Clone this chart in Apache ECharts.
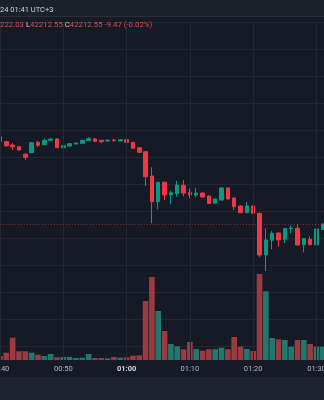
<!DOCTYPE html>
<html>
<head>
<meta charset="utf-8">
<script src="https://cdn.jsdelivr.net/npm/echarts@6/dist/echarts.min.js"></script>
<style>
html,body{margin:0;padding:0;background:#161a25;}
#c{width:324px;height:400px;}
</style>
</head>
<body>
<div id="c"></div>
<script>
// ---- data ----
const categories = ['00:40','00:41','00:42','00:43','00:44','00:45','00:46','00:47','00:48','00:49',
  '00:50','00:51','00:52','00:53','00:54','00:55','00:56','00:57','00:58','00:59',
  '01:00','01:01','01:02','01:03','01:04','01:05','01:06','01:07','01:08','01:09',
  '01:10','01:11','01:12','01:13','01:14','01:15','01:16','01:17','01:18','01:19',
  '01:20','01:21','01:22','01:23','01:24','01:25','01:26','01:27','01:28','01:29',
  '01:30','01:31'];
// [open, close, low, high]
const ohlc = [
  [42228.76,42227.83,42227.69,42228.98],
  [42227.83,42227.09,42226.95,42227.96],
  [42227.22,42226.91,42226.30,42227.59],
  [42226.91,42226.30,42226.20,42227.04],
  [42225.50,42224.95,42224.45,42225.74],
  [42225.80,42227.65,42225.74,42227.72],
  [42227.72,42227.17,42226.85,42228.02],
  [42227.28,42228.09,42227.22,42228.46],
  [42228.09,42228.33,42228.00,42228.43],
  [42228.33,42226.72,42226.67,42228.43],
  [42226.72,42227.09,42226.63,42227.19],
  [42227.04,42227.46,42226.95,42227.56],
  [42227.41,42227.59,42227.33,42227.67],
  [42227.54,42228.09,42227.46,42228.19],
  [42228.02,42228.39,42227.96,42228.65],
  [42228.33,42227.91,42227.83,42228.57],
  [42228.09,42227.83,42227.54,42228.19],
  [42227.96,42228.11,42227.91,42228.24],
  [42228.15,42228.02,42227.91,42228.39],
  [42227.96,42228.20,42227.91,42228.28],
  [42228.20,42227.72,42227.65,42228.28],
  [42227.72,42226.61,42226.54,42227.78],
  [42226.72,42225.87,42225.80,42226.80],
  [42225.98,42221.35,42219.63,42226.06],
  [42221.48,42216.72,42212.72,42223.09],
  [42216.72,42220.32,42215.31,42220.37],
  [42220.32,42217.96,42217.04,42220.46],
  [42217.96,42218.39,42216.30,42218.76],
  [42218.20,42219.82,42217.65,42220.61],
  [42219.76,42218.33,42217.72,42220.74],
  [42218.46,42217.96,42217.35,42219.20],
  [42217.96,42218.33,42217.54,42219.32],
  [42218.33,42217.59,42217.50,42218.43],
  [42217.78,42216.39,42216.30,42217.87],
  [42216.48,42217.22,42216.24,42217.31],
  [42217.04,42219.26,42216.94,42219.35],
  [42219.26,42217.22,42217.13,42219.35],
  [42217.41,42215.80,42215.19,42217.50],
  [42215.93,42214.69,42214.59,42216.02],
  [42214.69,42215.93,42214.59,42216.67],
  [42215.93,42214.57,42214.48,42216.02],
  [42214.57,42206.85,42206.48,42214.67],
  [42206.85,42209.63,42203.89,42211.80],
  [42209.57,42210.87,42207.91,42211.30],
  [42210.93,42209.63,42208.39,42211.02],
  [42209.76,42211.76,42209.07,42211.85],
  [42211.72,42211.85,42210.87,42212.35],
  [42211.80,42208.70,42208.61,42212.59],
  [42208.76,42209.87,42207.31,42209.96],
  [42209.76,42208.76,42208.67,42210.31],
  [42208.76,42211.67,42208.67,42211.76],
  [42211.57,42212.55,42211.48,42212.78]
];
const volume = [2,3.65,11.15,4.35,4.35,3.65,2.65,2,3,1.35,
  1.5,1.5,1,1.15,3,1,1,0.85,1.5,1.15,
  1.35,2.15,2.35,29.5,41.5,24.5,14.5,8,6.85,5.35,
  9,5.5,4.65,5.35,5.35,6.15,5.35,11.5,6.65,5.5,
  4.5,43,34.35,11,10.35,10,6.65,10,10,8,
  6.65,6.65];
const lastPrice = 42212.55;
const headerTime = '24 01:41 UTC+3';
const headerValues = {h:'222.03', l:'42212.55', c:'42212.55', chg:'-9.47 (-0.02%)'};
const priceMin = 42190, priceMax = 42250, priceStep = 5;
const volMax = 169;

// ---- styles ----
const UP = '#089981', DOWN = '#f23645';
const UPV = '#22786d', DOWNV = '#9a3b42';
const GRIDC = '#232734';
const FONT = 'Roboto';
const STEP = 6.33;

const chart = echarts.init(document.getElementById('c'), null, {renderer:'canvas'});
const volData = volume.map((v,i)=>({
  value:v,
  itemStyle:{color: ohlc[i][1] >= ohlc[i][0] ? UPV : DOWNV}
}));
const gridLeft = -STEP/2;
const gridW = categories.length * STEP;

chart.setOption({
  backgroundColor:'#161a25',
  animation:false,
  textStyle:{fontFamily:FONT},
  grid:[
    {left:gridLeft, top:22, width:gridW, height:324, containLabel:false, outerBoundsMode:'none'},
    {left:gridLeft, top:22, width:gridW, height:338, containLabel:false, outerBoundsMode:'none'}
  ],
  xAxis:[
    {type:'category', gridIndex:0, data:categories, boundaryGap:true,
     axisLine:{show:false}, axisTick:{show:false}, axisLabel:{show:false}, splitLine:{show:false}},
    {type:'category', gridIndex:1, data:categories, boundaryGap:true,
     axisLine:{show:false}, axisTick:{show:false},
     axisLabel:{show:true, interval:9, margin:5, color:'#b2b5be', fontSize:7.5, fontFamily:FONT,
       showMinLabel:true, hideOverlap:false,
       formatter:(v)=> v.endsWith(':00') ? '{b|'+v+'}' : v,
       rich:{b:{color:'#d1d4dc', fontSize:7.5, fontWeight:'bold', fontFamily:FONT}}},
     splitLine:{show:false}}
  ],
  yAxis:[
    {type:'value', gridIndex:0, min:priceMin, max:priceMax, interval:priceStep,
     axisLine:{show:false}, axisTick:{show:false}, axisLabel:{show:false},
     splitLine:{show:true, lineStyle:{color:GRIDC, width:1}}},
    {type:'value', gridIndex:1, min:0, max:volMax,
     axisLine:{show:false}, axisTick:{show:false}, axisLabel:{show:false}, splitLine:{show:false}}
  ],
  series:[
    {type:'bar', xAxisIndex:1, yAxisIndex:1, data:volData, barWidth:5.6, z:1,
     markLine:{silent:true, symbol:['none','none'], label:{show:false},
       lineStyle:{color:GRIDC, type:'solid', width:1},
       data:categories.filter((c,i)=>i%10===0).map(c=>({xAxis:c}))}},
    {type:'candlestick', xAxisIndex:0, yAxisIndex:0, data:ohlc, barWidth:4, z:3,
     itemStyle:{color:UP, color0:DOWN, borderColor:UP, borderColor0:DOWN, borderWidth:1},
     markLine:{silent:true, symbol:['none','none'], label:{show:false},
       lineStyle:{color:'rgba(242,54,69,0.55)', type:[1,2], width:1},
       data:[{yAxis:lastPrice}]}}
  ],
  graphic:[
    {type:'rect', left:0, top:0, shape:{width:324, height:16}, style:{fill:'#1c2029'}, z:10},
    {type:'rect', left:0, top:16, shape:{width:324, height:1}, style:{fill:'#2a2e39'}, z:10},
    {type:'rect', left:0, top:377, shape:{width:324, height:23}, style:{fill:'#1f232d'}, z:10},
    {type:'text', left:0, top:6, z:11,
     style:{text:headerTime, fill:'#d1d4dc', font:'7.5px '+FONT}},
    {type:'text', left:0, top:21, z:11,
     style:{text:'{v|'+headerValues.h+'} {k|L}{v|'+headerValues.l+'} {k|C}{v|'+headerValues.c+'} {v|'+headerValues.chg+'}',
       rich:{v:{fill:'#e8434f', font:'7.8px '+FONT}, k:{fill:'#c8cad2', font:'7.8px '+FONT}},
       font:'7.8px '+FONT}}
  ]
});
</script>
</body>
</html>
